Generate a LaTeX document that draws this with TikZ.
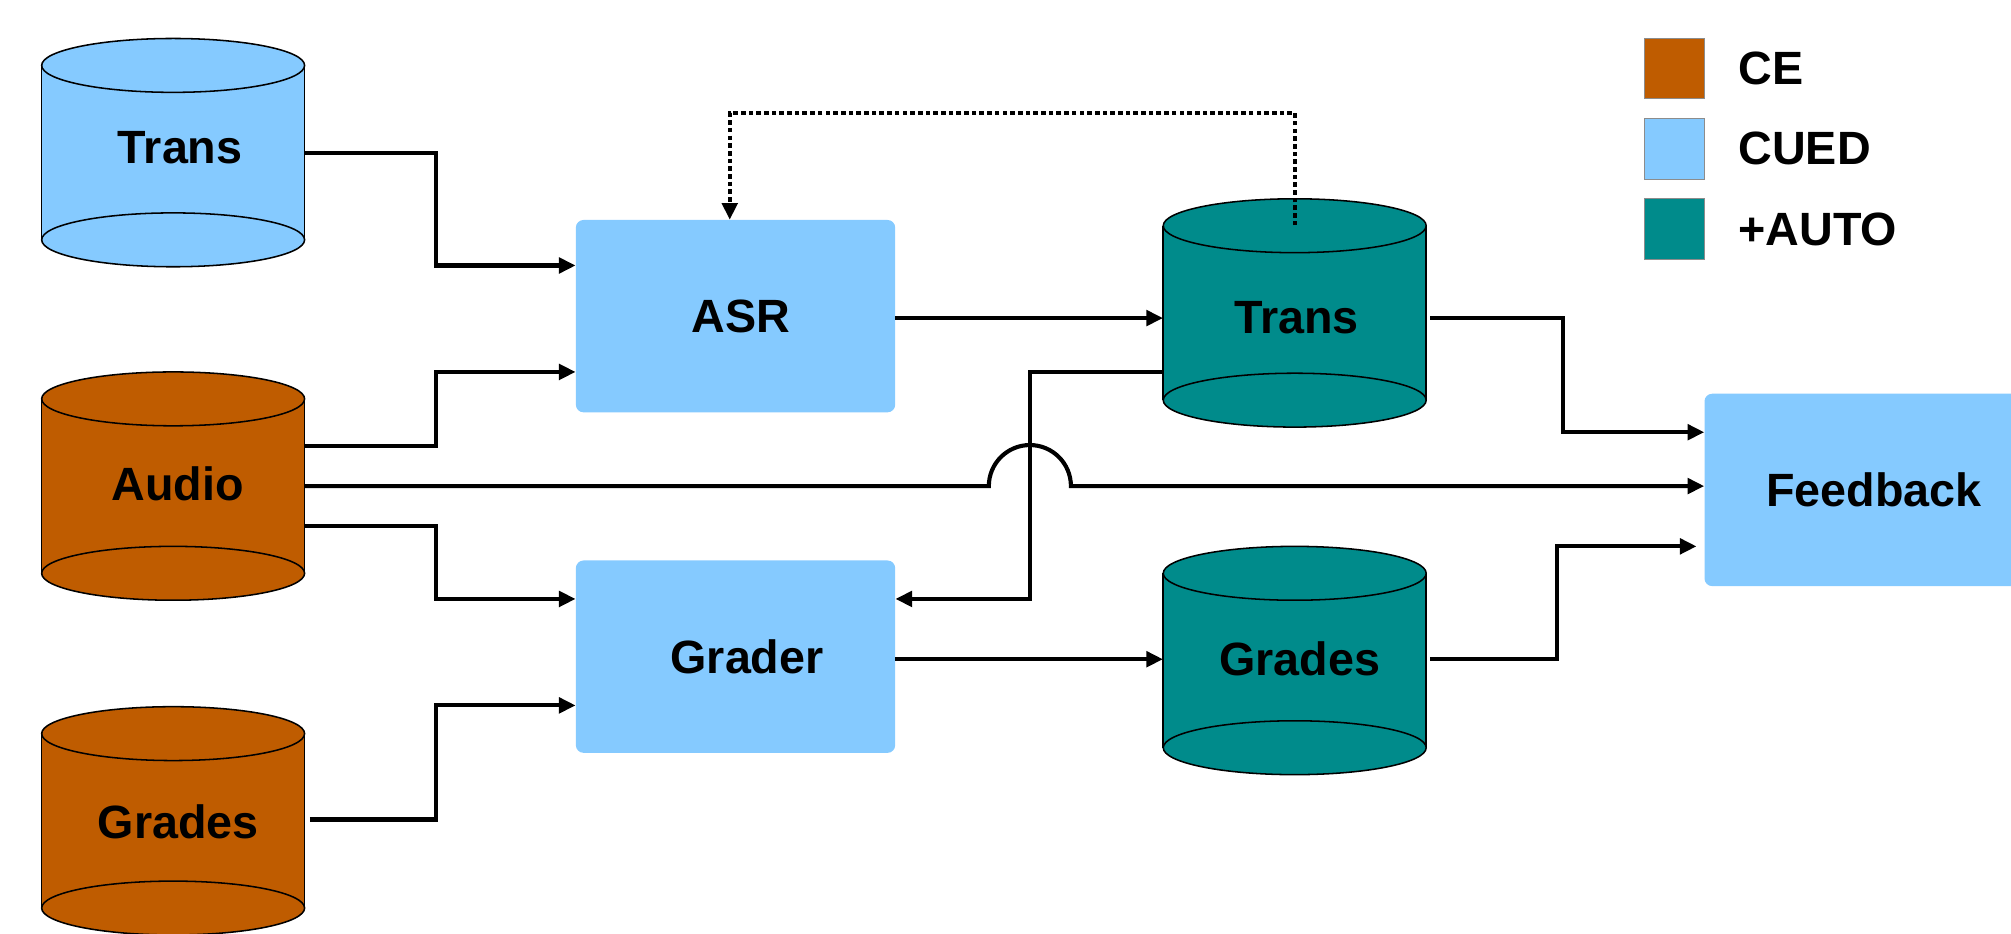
\documentclass[tikz,border=0pt]{standalone}
\usepackage{fontspec}
\setmainfont{Liberation Sans}
\usetikzlibrary{arrows.meta,calc}

\definecolor{cuedblue}{RGB}{133,202,255}
\definecolor{ceorange}{RGB}{191,92,0}
\definecolor{autoteal}{RGB}{0,139,139}

\tikzset{
  lbl/.style={font=\fontsize{36.4}{40}\selectfont\bfseries, text=black},
  cylline/.style={draw=black, line width=1.2pt},
  cylbody/.style={rectangle, minimum width=205pt, minimum height=136pt, inner sep=0pt},
  procbox/.style={lbl, rectangle, rounded corners=6pt, fill=cuedblue, inner sep=0pt},
  legsq/.style={rectangle, draw=black!45, line width=0.6pt, minimum size=47pt, inner sep=0pt},
  conn/.style={draw=black, line width=3.2pt, -{Triangle[length=13pt,width=12pt]}},
  dotconn/.style={conn, dash pattern=on 3.6pt off 2.4pt},
}

% data store drawn as a cylinder:
% name, centre x, centre y, colour, label, label offset x, label offset y
\newcommand{\dbcyl}[7]{%
  \fill[#4] (#2-102.5,#3-68) rectangle (#2+102.5,#3+68);
  \draw[cylline] (#2-102.5,#3-68) -- (#2-102.5,#3+68)
                 (#2+102.5,#3-68) -- (#2+102.5,#3+68);
  \filldraw[cylline,fill=#4] (#2,#3+68) ellipse [x radius=102.5pt, y radius=21pt];
  \filldraw[cylline,fill=#4] (#2,#3-68) ellipse [x radius=102.5pt, y radius=21pt];
  \node[cylbody] (#1) at (#2,#3) {};
  \node[lbl] (#1-label) at (#2+#6,#3+#7) {#5};
}

\begin{document}
\begin{tikzpicture}[x=1pt,y=-1pt]
\useasboundingbox (0,0) rectangle (1568,728);

% data stores
\dbcyl{ceTrans}{135}{119}{cuedblue}{Trans}{5.5}{-4}
\dbcyl{audio}{135}{379}{ceorange}{Audio}{3.5}{-2}
\dbcyl{ceGrades}{135}{640}{ceorange}{Grades}{4}{1}
\dbcyl{teTrans}{1009.5}{244}{autoteal}{Trans}{1.5}{4}
\dbcyl{teGrades}{1009.5}{515}{autoteal}{Grades}{4}{-1}

% processing blocks
\node[procbox, minimum width=249pt, minimum height=150pt] (asr) at (573.5,246.5) {\hspace*{8pt}ASR};
\node[procbox, minimum width=249pt, minimum height=150pt] (grader) at (573.5,512) {\hspace*{18pt}Grader};
\node[procbox, minimum width=264pt, minimum height=150pt] (feedback) at (1461,382) {Feedback};

% legend
\node[legsq, fill=ceorange] (keyCE) at (1305.5,53.5) {};
\node[legsq, fill=cuedblue] (keyCUED) at (1305.5,116) {};
\node[legsq, fill=autoteal] (keyAUTO) at (1305.5,178.5) {};
\node[lbl, anchor=west] (txtCE) at (1352,53) {CE};
\node[lbl, anchor=west] (txtCUED) at (1352,116) {CUED};
\node[lbl, anchor=west] (txtAUTO) at (1352,179) {+AUTO};

% connectors into ASR
\draw[conn] (ceTrans.east |- 0,119) -| (340,207) -- (asr.west |- 0,207);
\draw[conn] (audio.east |- 0,348) -| (340,290) -- (asr.west |- 0,290);

% Audio straight to Feedback, hopping over the vertical wire
\draw[conn] (audio.east |- 0,379) -- (771,379)
  arc[start angle=180, end angle=0, radius=32pt] -- (feedback.west |- 0,379);

% connectors into Grader
\draw[conn] (audio.east |- 0,410) -| (340,467) -- (grader.west |- 0,467);
\draw[conn] ($(ceGrades.east |- 0,639)+(4,0)$) -| (340,550) -- (grader.west |- 0,550);
\draw[conn] (teTrans.west |- 0,290) -| (803,467) -- (grader.east |- 0,467);

% outputs of the blocks
\draw[conn] (asr.east |- 0,248) -- (teTrans.west |- 0,248);
\draw[conn] (grader.east |- 0,514) -- (teGrades.west |- 0,514);

% into Feedback
\draw[conn] ($(teTrans.east |- 0,248)+(3,0)$) -| (1219,337) -- (feedback.west |- 0,337);
\draw[conn] ($(teGrades.east |- 0,514)+(3,0)$) -| (1214,426) -- ($(feedback.west |- 0,426)+(-6,0)$);

% dotted feedback loop from the automatic transcriptions back to ASR
\draw[dotconn] (teTrans.north) -- (teTrans.north |- 0,88) -| (asr.north -| 569,0);
\end{tikzpicture}
\end{document}
